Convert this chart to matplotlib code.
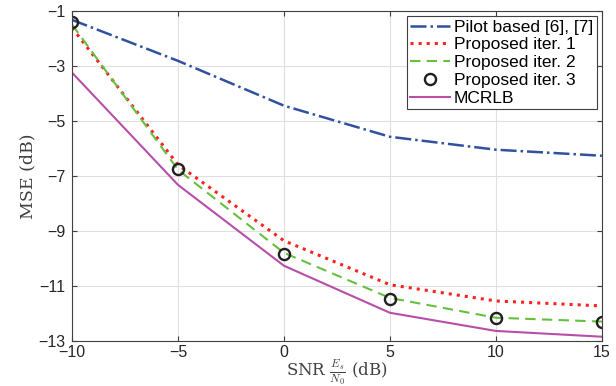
import numpy as np
import matplotlib.pyplot as plt

snr = [-10, -5, 0, 5, 10, 15]
pilot = [-1.33, -2.82, -4.45, -5.58, -6.05, -6.27]
iter1 = [-1.62, -6.6, -9.36, -10.96, -11.55, -11.73]
iter2 = [-1.5, -6.78, -9.8, -11.44, -12.16, -12.3]
iter3 = [-1.4, -6.75, -9.84, -11.47, -12.16, -12.3]
mcrlb = [-3.25, -7.33, -10.27, -11.98, -12.64, -12.85]

plt.rcParams['font.family'] = ['Liberation Sans', 'DejaVu Sans']
plt.rcParams['mathtext.fontset'] = 'cm'

fig = plt.figure(figsize=(6.16, 3.86), dpi=100)
ax = fig.add_axes([0.117, 0.117, 0.86, 0.855])

ax.plot(snr, pilot, color='#3050a0', ls='-.', lw=1.8, label='Pilot based [6], [7]')
ax.plot(snr, iter1, color='#ff2020', ls=':', lw=2.2, label='Proposed iter. 1')
ax.plot(snr, iter2, color='#66c040', ls=(0, (5, 3)), lw=1.5, label='Proposed iter. 2')
ax.plot(snr, iter3, ls='none', marker='o', ms=8, mfc='none', mec='#202020', mew=1.7,
        label='Proposed iter. 3')
ax.plot(snr, mcrlb, color='#b84ea8', ls='-', lw=1.5, label='MCRLB')

ax.set_xlim(-10, 15)
ax.set_ylim(-13, -1)
ax.set_xticks(snr)
ax.set_yticks(np.arange(-13, 0, 2))
ax.grid(True, color='#e0e0e0', lw=0.8)
ax.set_axisbelow(True)
ax.tick_params(direction='in', top=True, right=True, labelsize=11.5, color='#404040',
               labelcolor='#262626')
ax.tick_params(axis='x', pad=3)
ax.tick_params(axis='y', pad=5)
for s in ax.spines.values():
    s.set_color('#404040')

ax.set_xlabel(r'SNR $\frac{E_s}{N_0}$ (dB)', fontsize=12, color='#404040', labelpad=-2)
ax.set_ylabel('MSE (dB)', fontsize=12.5, color='#404040', labelpad=1)
for t in [ax.xaxis.label, ax.yaxis.label]:
    t.set_fontfamily(['DejaVu Serif'])

leg = ax.legend(loc='upper right', fontsize=12.5, handlelength=2.3, handletextpad=0.2,
                borderpad=0.2, labelspacing=0.15, fancybox=False, framealpha=1,
                borderaxespad=0.3)
leg.get_frame().set_edgecolor('#404040')
leg.get_frame().set_linewidth(0.8)

fig.savefig('out.png', dpi=100)
